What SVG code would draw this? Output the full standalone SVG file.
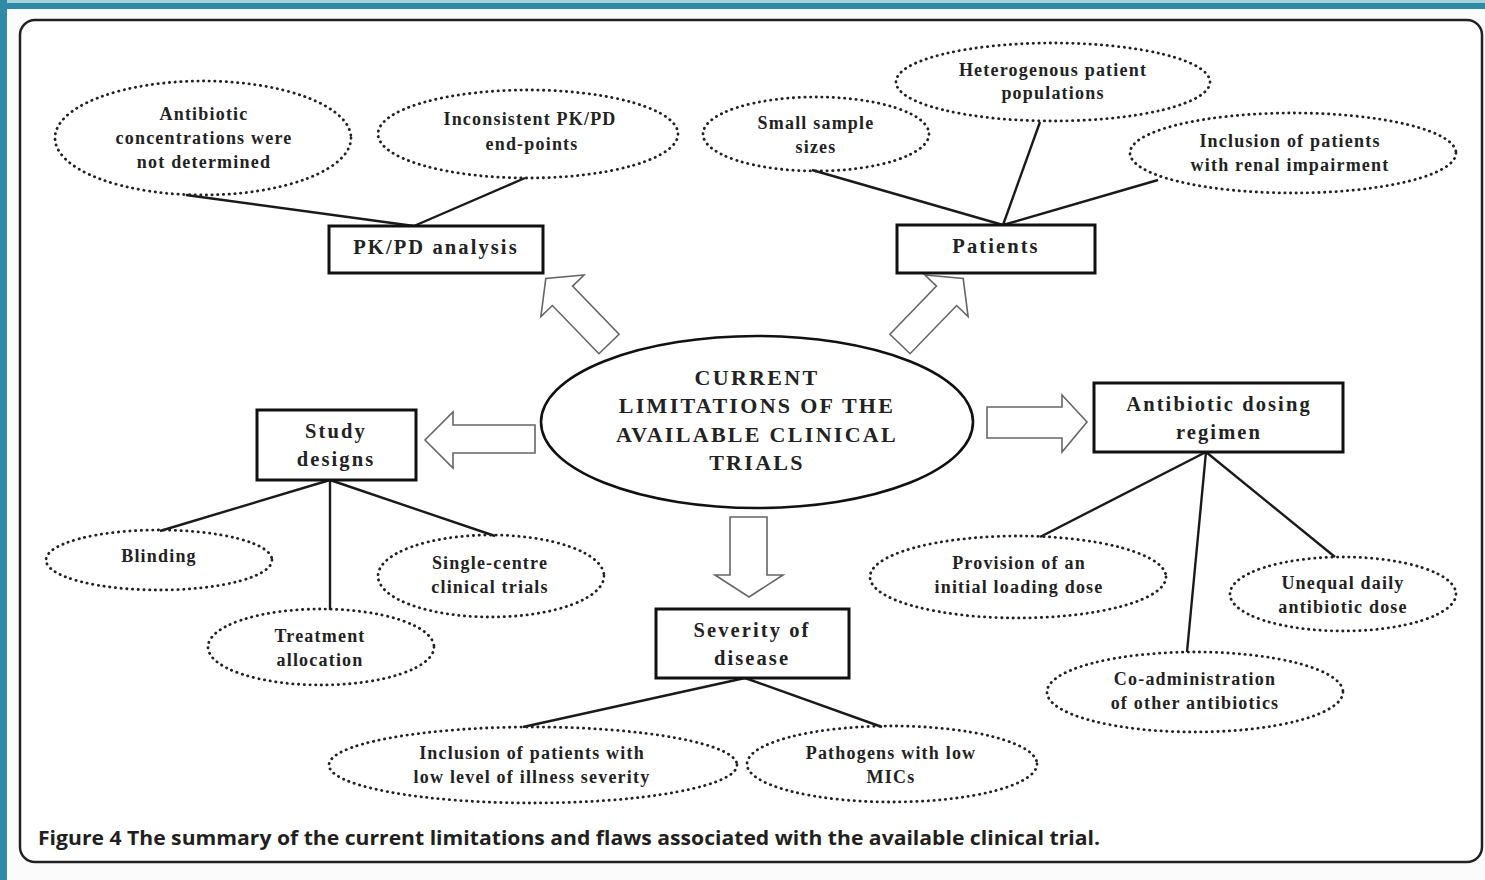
<svg xmlns="http://www.w3.org/2000/svg" width="1485" height="880" viewBox="0 0 1485 880">
<defs>
<style>
.dot{fill:none;stroke:#222;stroke-width:2.8;stroke-dasharray:0.3 5.4;stroke-linecap:round}
.box{fill:#fff;stroke:#111;stroke-width:3}
.t{font-family:"Liberation Serif","Times New Roman",serif;font-weight:bold;fill:#222;text-anchor:middle}
.s{font-size:18px;letter-spacing:1.2px}
.b{font-size:20.5px;letter-spacing:2.1px}
.c{font-size:22px;letter-spacing:2.3px}
.ln{stroke:#1a1a1a;stroke-width:2.4;fill:none}
.arr{fill:#fff;stroke:#666;stroke-width:1.6;stroke-linejoin:miter}
</style>
</defs>
<rect x="0" y="0" width="1485" height="880" fill="#fbfbfb"/>
<rect x="0" y="0" width="1485" height="4" fill="#a6d3e0"/>
<rect x="0" y="3" width="1485" height="6" fill="#2f8aa6"/>
<rect x="0" y="0" width="7" height="880" fill="#2f8aa6"/>
<rect x="20" y="20" width="1462" height="842" rx="15" fill="#fff" stroke="#222" stroke-width="2.5"/>

<g id="connectors">
<line class="ln" x1="414" y1="226" x2="186" y2="195"/>
<line class="ln" x1="414" y1="226" x2="525" y2="178"/>
<line class="ln" x1="1003" y1="225" x2="812" y2="170"/>
<line class="ln" x1="1003" y1="225" x2="1040" y2="122"/>
<line class="ln" x1="1003" y1="225" x2="1158" y2="180"/>
<line class="ln" x1="330" y1="480" x2="160" y2="531"/>
<line class="ln" x1="330" y1="480" x2="330" y2="610"/>
<line class="ln" x1="330" y1="480" x2="495" y2="536"/>
<line class="ln" x1="1206" y1="452" x2="1040" y2="537"/>
<line class="ln" x1="1206" y1="452" x2="1187" y2="652"/>
<line class="ln" x1="1206" y1="452" x2="1335" y2="557"/>
<line class="ln" x1="745" y1="678" x2="523" y2="727"/>
<line class="ln" x1="745" y1="678" x2="882" y2="727"/>
<polygon class="arr" points="535,425 453,425 453,412 425,440 453,468 453,453 535,453"/>
<polygon class="arr" points="987,407 1062,407 1062,395 1087,422 1062,452 1062,438 987,438"/>
<polygon class="arr" points="730,517 767,517 767,575 783,575 749,597 715,575 730,575"/>
<polygon class="arr" transform="translate(609,344) rotate(-134)" points="0,-14 67,-14 67,-30 91,0 67,30 67,14 0,14"/>
<polygon class="arr" transform="translate(900,344) rotate(-46)" points="0,-14 67,-14 67,-30 91,0 67,30 67,14 0,14"/>
</g>

<g id="center">
<ellipse cx="757" cy="422" rx="216" ry="86" fill="#fff" stroke="#111" stroke-width="2.6"/>
<text class="t c" x="757" y="385">CURRENT</text>
<text class="t c" x="757" y="413">LIMITATIONS OF THE</text>
<text class="t c" x="757" y="442">AVAILABLE CLINICAL</text>
<text class="t c" x="757" y="470">TRIALS</text>
</g>

<g id="pkpd">
<rect class="box" x="329" y="226" width="214" height="47"/>
<text class="t b" x="436" y="254">PK/PD analysis</text>
</g>
<g id="patients">
<rect class="box" x="897" y="225" width="198" height="48"/>
<text class="t b" x="996" y="253">Patients</text>
</g>
<g id="study">
<rect class="box" x="257" y="410" width="159" height="70"/>
<text class="t b" x="336" y="438">Study</text>
<text class="t b" x="336" y="466">designs</text>
</g>
<g id="dosing">
<rect class="box" x="1094" y="383" width="249" height="69"/>
<text class="t b" x="1219" y="411">Antibiotic dosing</text>
<text class="t b" x="1219" y="439">regimen</text>
</g>
<g id="severity">
<rect class="box" x="656" y="609" width="193" height="69"/>
<text class="t b" x="752" y="637">Severity of</text>
<text class="t b" x="752" y="665">disease</text>
</g>

<g id="e-conc">
<ellipse class="dot" cx="203" cy="138" rx="148" ry="57"/>
<text class="t s" x="204" y="120">Antibiotic</text>
<text class="t s" x="204" y="144">concentrations were</text>
<text class="t s" x="204" y="168">not determined</text>
</g>
<g id="e-incons">
<ellipse class="dot" cx="528" cy="134" rx="150" ry="44"/>
<text class="t s" x="530" y="125">Inconsistent PK/PD</text>
<text class="t s" x="532" y="150">end-points</text>
</g>
<g id="e-small">
<ellipse class="dot" cx="816" cy="134" rx="113" ry="37"/>
<text class="t s" x="816" y="129">Small sample</text>
<text class="t s" x="816" y="153">sizes</text>
</g>
<g id="e-hetero">
<ellipse class="dot" cx="1053" cy="82" rx="157" ry="39"/>
<text class="t s" x="1053" y="76">Heterogenous patient</text>
<text class="t s" x="1053" y="99">populations</text>
</g>
<g id="e-renal">
<ellipse class="dot" cx="1293" cy="153" rx="163" ry="40"/>
<text class="t s" x="1290" y="147">Inclusion of patients</text>
<text class="t s" x="1290" y="171">with renal impairment</text>
</g>
<g id="e-blind">
<ellipse class="dot" cx="159" cy="560" rx="113" ry="30"/>
<text class="t s" x="159" y="562">Blinding</text>
</g>
<g id="e-single">
<ellipse class="dot" cx="491" cy="576" rx="113" ry="41"/>
<text class="t s" x="490" y="569">Single-centre</text>
<text class="t s" x="490" y="593">clinical trials</text>
</g>
<g id="e-treat">
<ellipse class="dot" cx="321" cy="647" rx="113" ry="38"/>
<text class="t s" x="320" y="642">Treatment</text>
<text class="t s" x="320" y="666">allocation</text>
</g>
<g id="e-loading">
<ellipse class="dot" cx="1018" cy="577" rx="148" ry="41"/>
<text class="t s" x="1019" y="569">Provision of an</text>
<text class="t s" x="1019" y="593">initial loading dose</text>
</g>
<g id="e-unequal">
<ellipse class="dot" cx="1343" cy="594" rx="113" ry="37"/>
<text class="t s" x="1343" y="589">Unequal daily</text>
<text class="t s" x="1343" y="613">antibiotic dose</text>
</g>
<g id="e-coadmin">
<ellipse class="dot" cx="1195" cy="692" rx="148" ry="40"/>
<text class="t s" x="1195" y="685">Co-administration</text>
<text class="t s" x="1195" y="709">of other antibiotics</text>
</g>
<g id="e-low">
<ellipse class="dot" cx="533" cy="765" rx="204" ry="38"/>
<text class="t s" x="532" y="759">Inclusion of patients with</text>
<text class="t s" x="532" y="783">low level of illness severity</text>
</g>
<g id="e-mic">
<ellipse class="dot" cx="892" cy="764" rx="145" ry="38"/>
<text class="t s" x="891" y="759">Pathogens with low</text>
<text class="t s" x="891" y="783">MICs</text>
</g>

<text x="38" y="845" font-family="'Open Sans','Liberation Sans',sans-serif" font-weight="bold" font-size="20" textLength="1062" lengthAdjust="spacingAndGlyphs" fill="#231f20">Figure 4 The summary of the current limitations and flaws associated with the available clinical trial.</text>
</svg>
